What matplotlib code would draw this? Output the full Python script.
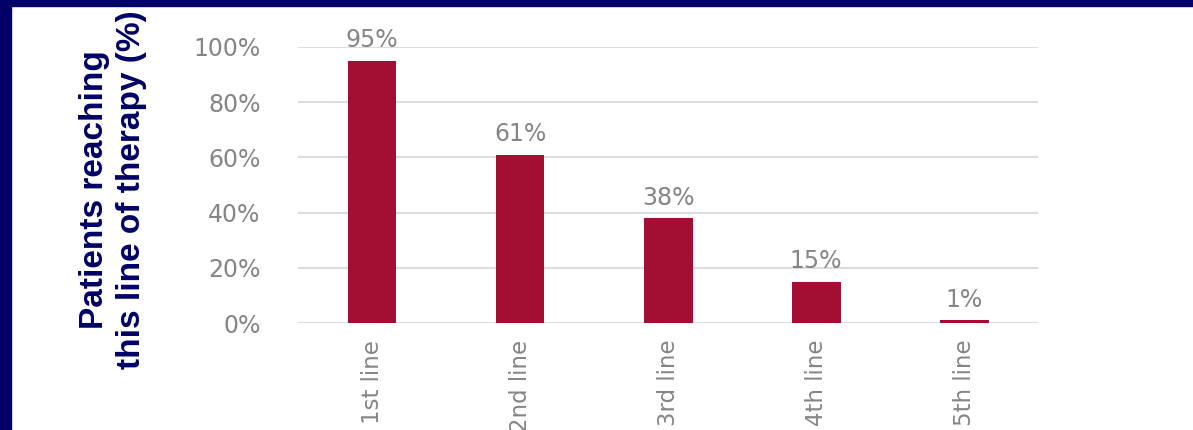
import matplotlib.pyplot as plt
from matplotlib.patches import Rectangle

lines = ["1st line", "2nd line", "3rd line", "4th line", "5th line"]
reached = [95, 61, 38, 15, 1]
yticks = [0, 20, 40, 60, 80, 100]

navy = "#000066"
bar_color = "#A30F33"
label_gray = "#858585"
grid_gray = "#dcdcdc"

fig = plt.figure(figsize=(11.93, 4.30), dpi=100)
fig.patch.set_facecolor("white")

# frame strips along the top and left edges
fig.patches.append(Rectangle((0, 0.986), 1, 0.014, transform=fig.transFigure,
                             color=navy, zorder=0))
fig.patches.append(Rectangle((0, 0), 0.0092, 1, transform=fig.transFigure,
                             color=navy, zorder=0))

ax = fig.add_axes([0.2498, 0.2488, 0.6204, 0.6419])
x = range(len(lines))
bars = ax.bar(x, reached, width=0.33, color=bar_color, zorder=3)

for b, v in zip(bars, reached):
    ax.annotate(f"{v}%", (b.get_x() + b.get_width() / 2, v),
                xytext=(0, 6), textcoords="offset points",
                ha="center", va="bottom", fontsize=17, color=label_gray,
                family="DejaVu Sans", annotation_clip=False)

ax.set_xlim(-0.5, len(lines) - 0.5)
ax.set_ylim(0, 100)
ax.set_yticks(yticks)
ax.set_yticklabels([f"{t}%" for t in yticks], fontsize=17, color=label_gray,
                   family="DejaVu Sans")
ax.set_xticks(list(x))
ax.set_xticklabels(lines, rotation=90, fontsize=16.5, color=label_gray,
                   family="DejaVu Sans")
ax.tick_params(axis="y", length=0, pad=27)
ax.tick_params(axis="x", length=0, pad=12)

ax.grid(axis="y", color=grid_gray, linewidth=1.5, zorder=0)
for s in ax.spines.values():
    s.set_visible(False)

fig.text(0.0947, 0.558, "Patients reaching\nthis line of therapy (%)",
         rotation=90, ha="center", va="center", multialignment="center",
         fontsize=24, fontweight="bold", color=navy,
         family=["Liberation Sans", "DejaVu Sans"], linespacing=1.22)

fig.savefig("out.png", dpi=100)
